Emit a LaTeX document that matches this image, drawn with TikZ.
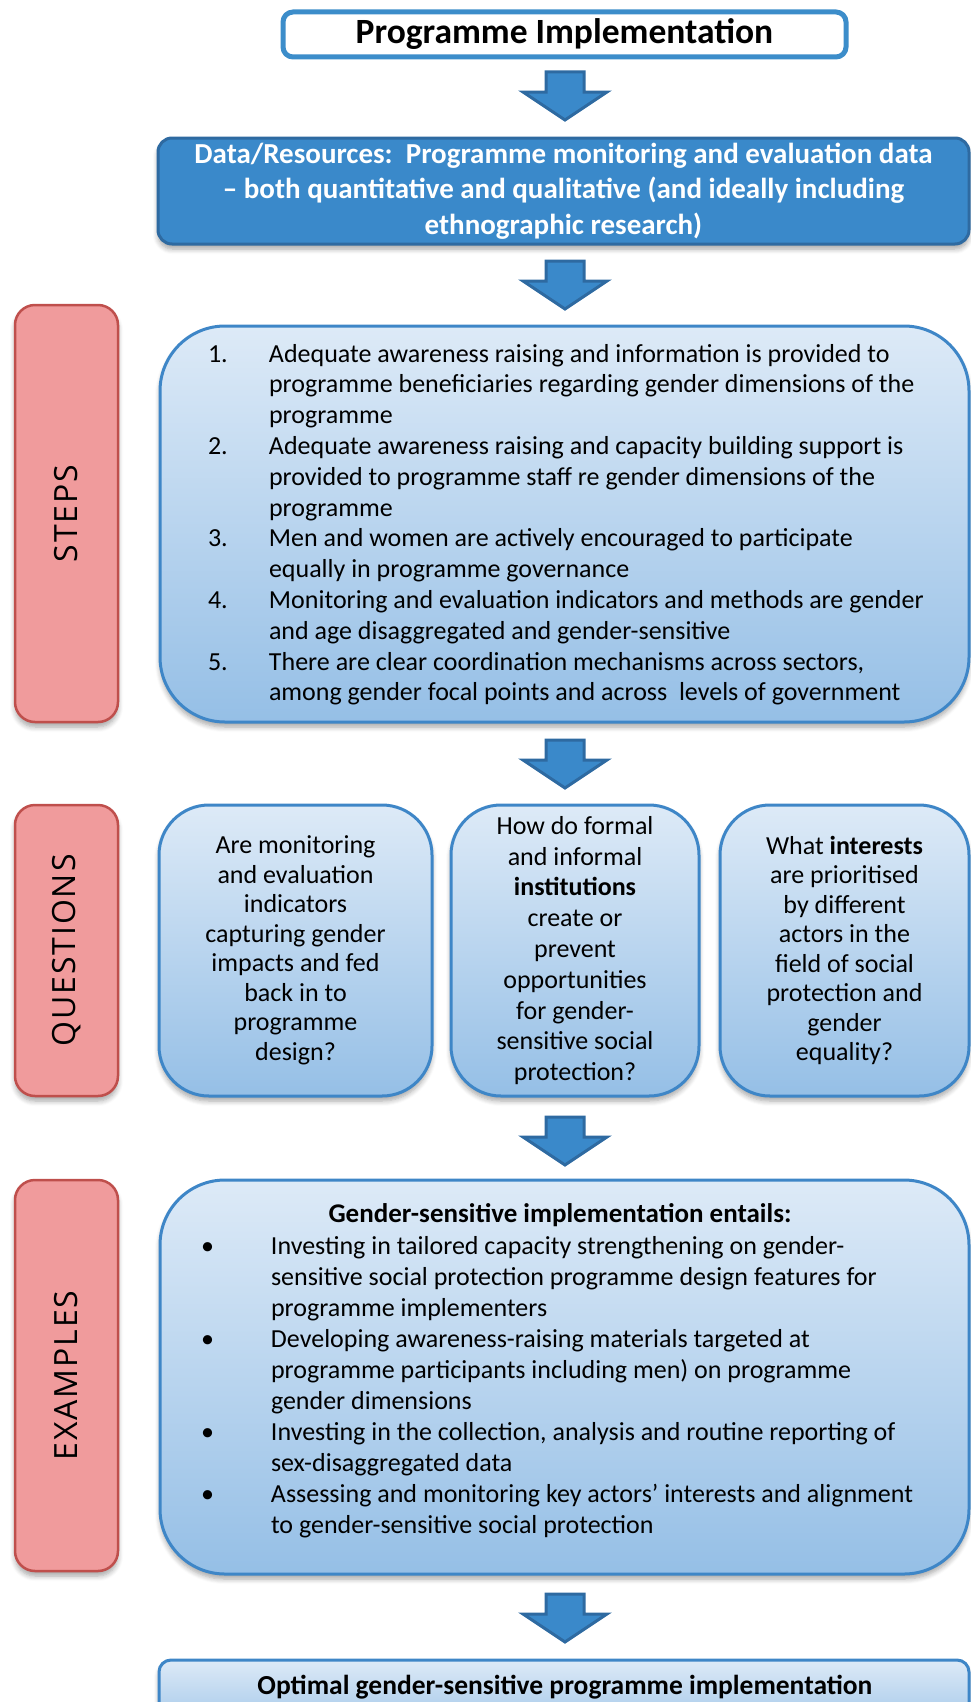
\documentclass[tikz,border=0pt]{standalone}
\usepackage{fontspec}
\setmainfont{Carlito}
\newfontfamily\labelfont[LetterSpace=6]{Open Sans}
\usetikzlibrary{shadows.blur,calc}
\definecolor{tblue}{HTML}{3C8DCA}
\definecolor{dfill}{HTML}{3A89CA}
\definecolor{ddark}{HTML}{2E6AA1}
\definecolor{lbtop}{HTML}{DDEAF7}
\definecolor{lbbot}{HTML}{95BFE6}
\definecolor{lbborder}{HTML}{3E86C7}
\definecolor{rfill}{HTML}{F09B9C}
\definecolor{rborder}{HTML}{BF4F4C}
\begin{document}
\begin{tikzpicture}[x=1pt,y=-1pt,
  every node/.style={inner sep=0pt, outer sep=0pt},
  softshadow/.style={blur shadow={shadow xshift=0pt, shadow yshift=-5pt, shadow blur radius=5pt, shadow blur steps=6, shadow opacity=35}},
  lbox/.style={draw=lbborder, line width=3pt, top color=lbtop, bottom color=lbbot, anchor=north west, softshadow},
  rbox/.style={draw=rborder, line width=2.5pt, fill=rfill, rounded corners=20pt, anchor=north west, minimum width=103pt, softshadow},
  lab/.style={rotate=90, font=\labelfont\fontsize{32}{33}\selectfont},
  bodytext/.style={font=\fontsize{26}{30.8}\selectfont},
  qtext/.style={align=center, font=\fontsize{26}{29.5}\selectfont},
  arrowstyle/.style={fill=dfill, draw=ddark, line width=3pt, line join=miter},
  blockarrow/.pic={\filldraw[arrowstyle] (-19,0) -- (19,0) -- (19,20) -- (42,20) -- (0,48) -- (-42,20) -- (-19,20) -- cycle;}
]
\useasboundingbox (0,0) rectangle (971,1702);
\clip (0,0) rectangle (971,1702);

% title
\node[draw=tblue, line width=5pt, fill=white, rounded corners=10pt, minimum width=563pt, minimum height=45pt, anchor=north west, font=\bfseries\fontsize{35.5}{40}\selectfont] (title) at (283,12) {Programme Implementation};

\coordinate (arr1) at (565,72);
\pic at (arr1) {blockarrow};

% data box
\node[draw=ddark, line width=3pt, fill=dfill, rounded corners=14pt, minimum width=811pt, minimum height=106pt, anchor=north west, align=center, text=white, font=\bfseries\fontsize{29}{35.5}\selectfont, softshadow] (data) at (158,138) {Data/Resources:\ \ Programme monitoring and evaluation data\\ -- both quantitative and qualitative (and ideally including\\ ethnographic research)};

\coordinate (arr2) at (565,261);
\pic at (arr2) {blockarrow};

% steps
\node[rbox, minimum height=417pt] (stepsr) at (15,305) {};
\node[lab] (stepsl) at (stepsr.center) {STEPS};
\node[lbox, rounded corners=65pt, minimum width=809pt, minimum height=396pt] (steps) at (160,326) {};
\node[bodytext, anchor=base west] (steptext) at (208,362) {\begin{tabular}[t]{@{}p{61pt}@{}l@{}}
1. & Adequate awareness raising and information is provided to\\
 & programme beneficiaries regarding gender dimensions of the\\
 & programme\\
2. & Adequate awareness raising and capacity building support is\\
 & provided to programme staff re gender dimensions of the\\
 & programme\\
3. & Men and women are actively encouraged to participate\\
 & equally in programme governance\\
4. & Monitoring and evaluation indicators and methods are gender\\
 & and age disaggregated and gender-sensitive\\
5. & There are clear coordination mechanisms across sectors,\\
 & among gender focal points and across\ \ levels of government
\end{tabular}};

\coordinate (arr3) at (565,740);
\pic at (arr3) {blockarrow};

% questions
\node[rbox, minimum height=291pt] (qr) at (15,805) {};
\node[lab] (ql) at (qr.center) {QUESTIONS};
\node[lbox, rounded corners=50pt, minimum width=273pt, minimum height=291pt, qtext] (q1) at (159,805) {Are monitoring\\and evaluation\\indicators\\capturing gender\\impacts and fed\\back in to\\programme\\design?};
\node[lbox, rounded corners=50pt, minimum width=248pt, minimum height=291pt, align=center, font=\fontsize{26}{30.8}\selectfont] (q2) at (451,805) {How do formal\\and informal\\\textbf{institutions}\\create or\\prevent\\opportunities\\for gender-\\sensitive social\\protection?};
\node[lbox, rounded corners=50pt, minimum width=249pt, minimum height=291pt, qtext] (q3) at (720,805) {What \textbf{interests}\\are prioritised\\by different\\actors in the\\field of social\\protection and\\gender\\equality?};

\coordinate (arr4) at (565,1117);
\pic at (arr4) {blockarrow};

% examples
\node[rbox, minimum height=391pt] (exr) at (15,1180) {};
\node[lab] (exl) at (exr.center) {EXAMPLES};
\node[lbox, rounded corners=65pt, minimum width=809pt, minimum height=394pt] (ex) at (160,1180) {};
\node[anchor=base, font=\bfseries\fontsize{27}{30}\selectfont] (extitle) at (560,1222) {Gender-sensitive implementation entails:};
\node[font=\fontsize{26}{31}\selectfont, anchor=base west] (extext) at (201,1254) {\begin{tabular}[t]{@{}p{70pt}@{}l@{}}
\textbullet & Investing in tailored capacity strengthening on gender-\\
 & sensitive social protection programme design features for\\
 & programme implementers\\
\textbullet & Developing awareness-raising materials targeted at\\
 & programme participants including men) on programme\\
 & gender dimensions\\
\textbullet & Investing in the collection, analysis and routine reporting of\\
 & sex-disaggregated data\\
\textbullet & Assessing and monitoring key actors’ interests and alignment\\
 & to gender-sensitive social protection
\end{tabular}};

\coordinate (arr5) at (565,1594);
\pic at (arr5) {blockarrow};

% bottom
\node[lbox, rounded corners=12pt, minimum width=810pt, minimum height=80pt] (final) at (159,1660) {};
\node[anchor=base, font=\bfseries\fontsize{27.5}{30}\selectfont] (finaltext) at (565,1694) {Optimal gender-sensitive programme implementation};
\end{tikzpicture}
\end{document}
